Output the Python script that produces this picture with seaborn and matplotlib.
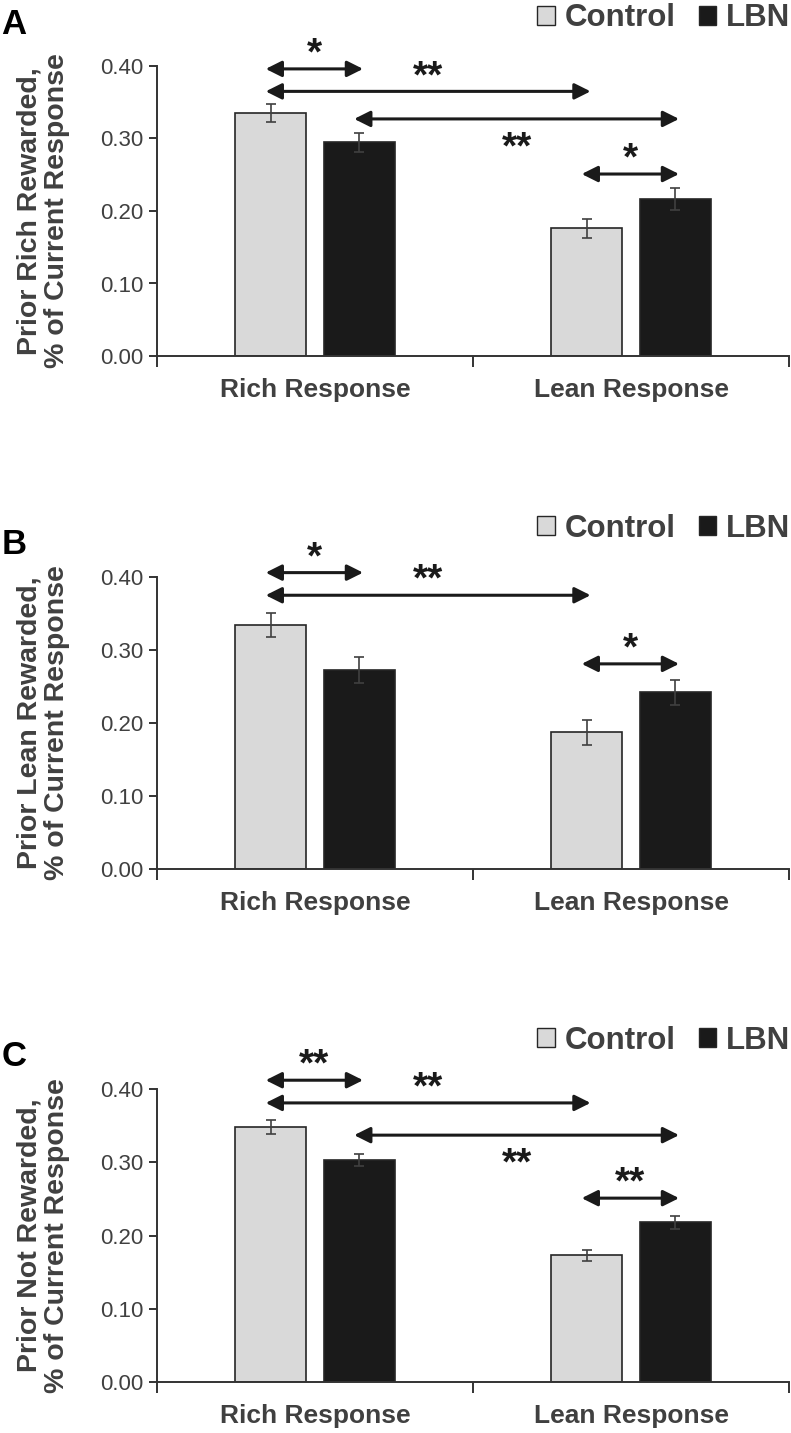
import matplotlib
matplotlib.use("Agg")
import matplotlib.pyplot as plt
from matplotlib.patches import Patch
import seaborn as sns
import pandas as pd

# data
categories = ["Rich Response", "Lean Response"]
groups = ["Control", "LBN"]
panels = ["A", "B", "C"]
ylabels = ["Prior Rich Rewarded,\n% of Current Response",
           "Prior Lean Rewarded,\n% of Current Response",
           "Prior Not Rewarded,\n% of Current Response"]

# order per panel: [Control Rich, Control Lean], [LBN Rich, LBN Lean]
control_means = [[0.335, 0.176], [0.334, 0.187], [0.348, 0.173]]
lbn_means = [[0.295, 0.217], [0.273, 0.242], [0.303, 0.218]]
control_sem = [[0.012, 0.0135], [0.0165, 0.017], [0.009, 0.0075]]
lbn_sem = [[0.013, 0.015], [0.018, 0.0175], [0.008, 0.0085]]

# significance brackets: (bar from, bar to, y level, label, label above?)
# bars sorted left->right: 0 Control-Rich, 1 LBN-Rich, 2 Control-Lean, 3 LBN-Lean
comparisons = [
    [(0, 1, 0.396, "*", True), (0, 2, 0.365, "**", True),
     (1, 3, 0.327, "**", False), (2, 3, 0.251, "*", True)],
    [(0, 1, 0.406, "*", True), (0, 2, 0.375, "**", True),
     (2, 3, 0.281, "*", True)],
    [(0, 1, 0.412, "**", True), (0, 2, 0.381, "**", True),
     (1, 3, 0.337, "**", False), (2, 3, 0.251, "**", True)],
]

palette = {"Control": "#d9d9d9", "LBN": "#1a1a1a"}
text_grey = "#404040"

sns.set_style("ticks")
plt.rcParams["font.family"] = ["Liberation Sans", "DejaVu Sans"]

W, H = 791, 1433
fig = plt.figure(figsize=(W / 100, H / 100), dpi=100)

# axes boxes in pixels: (left, top(0.40), right, bottom(0.00))
boxes = [(157, 66, 789, 356), (157, 577, 789, 869), (157, 1089, 789, 1382)]
letter_y = [25, 544, 1057]

for i, panel in enumerate(panels):
    l, t, r, b = boxes[i]
    ax = fig.add_axes([l / W, 1 - b / H, (r - l) / W, (b - t) / H])

    df = pd.DataFrame({
        "category": categories * 2,
        "group": [groups[0]] * 2 + [groups[1]] * 2,
        "value": control_means[i] + lbn_means[i],
    })
    sems = control_sem[i] + lbn_sem[i]
    sns.barplot(data=df, x="category", y="value", hue="group", order=categories,
                hue_order=groups, palette=palette, width=0.56, gap=0.2,
                edgecolor="#262626", linewidth=1.2, errorbar=None, legend=False,
                ax=ax)

    bars = [p for p in ax.patches if p.get_height() > 0]
    xs = [p.get_x() + p.get_width() / 2 for p in bars]
    hs = [p.get_height() for p in bars]
    ax.errorbar(xs, hs, yerr=sems, fmt="none", ecolor="#404040", elinewidth=1.2,
                capsize=3.5, capthick=1.2, zorder=5)

    order = sorted(range(len(xs)), key=lambda k: xs[k])
    cx = [xs[k] for k in order]
    for a, bb, y, lab, above in comparisons[i]:
        x0 = cx[a] - 0.016
        x1 = cx[bb] + 0.012
        ax.annotate("", xy=(x1, y), xytext=(x0, y), annotation_clip=False,
                    arrowprops=dict(arrowstyle="<|-|>,head_length=0.8,head_width=0.4",
                                    mutation_scale=12, lw=2.2, color="#1a1a1a",
                                    shrinkA=0, shrinkB=0))
        # asterisk ink sits well above the baseline at this size
        ty = y + 0.006 if above else y - 0.054
        ax.text((x0 + x1) / 2, ty, lab, ha="center", va="baseline", fontsize=28,
                fontweight="bold", color="#1a1a1a", clip_on=False)

    ax.set_ylim(0, 0.40)
    ax.set_xlim(-0.5, 1.5)
    ax.set_yticks([0, 0.1, 0.2, 0.3, 0.4])
    ax.set_yticklabels([f"{v:.2f}" for v in [0, 0.1, 0.2, 0.3, 0.4]])
    ax.set_xticks([0, 1])
    ax.set_xticklabels(categories, fontsize=19, fontweight="bold", color=text_grey)
    ax.set_xticks([-0.5, 0.5, 1.5], minor=True)
    ax.tick_params(axis="x", which="major", length=0, pad=16)
    ax.tick_params(axis="x", which="minor", length=8, width=1.4, color="#333333")
    ax.tick_params(axis="y", length=6, width=1.4, color="#333333", labelsize=16,
                   labelcolor=text_grey, pad=4)
    ax.set_xlabel("")
    ax.set_ylabel("")
    sns.despine(ax=ax)
    for s in ["left", "bottom"]:
        ax.spines[s].set_linewidth(1.4)
        ax.spines[s].set_color("#333333")

    ax.text(-0.18, 0.5, ylabels[i], transform=ax.transAxes, rotation=90,
            ha="center", va="center", fontsize=20.5, fontweight="bold",
            color=text_grey, linespacing=1.12, multialignment="center")

    handles = [Patch(facecolor=palette[g], edgecolor="#262626", linewidth=1.0)
               for g in groups]
    leg = ax.legend(handles, groups, loc="center right", bbox_to_anchor=(1.022, 1.165),
                    ncol=2, frameon=False, handlelength=0.55, handleheight=0.55,
                    handletextpad=0.32, columnspacing=0.75, borderaxespad=0,
                    prop={"weight": "bold", "size": 22.5})
    for txt in leg.get_texts():
        txt.set_color(text_grey)

    fig.text(14 / W, 1 - letter_y[i] / H, panel, ha="center", va="center",
             fontsize=25, fontweight="bold", color="black")

fig.savefig("out.png", dpi=100)
